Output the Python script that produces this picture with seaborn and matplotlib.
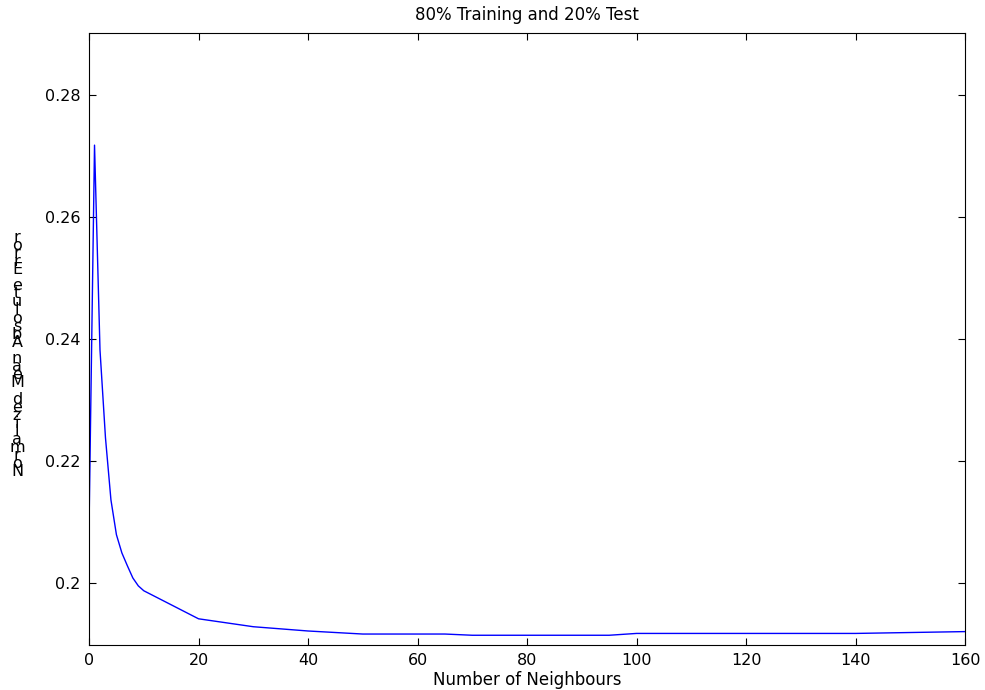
import pandas as pd
import matplotlib.pyplot as plt
import seaborn as sns

# =======================
# 1. DADOS
# =======================
neighbours = [0, 1, 2, 3, 4, 5, 6, 7, 8, 9, 10, 20, 30, 40, 50, 65, 70, 95, 100, 140, 160]
nmae = [0.2092, 0.2718, 0.2382, 0.2238, 0.2136, 0.2079, 0.2049, 0.2028, 0.2008, 0.1995,
        0.1987, 0.1941, 0.1928, 0.1921, 0.1916, 0.1916, 0.1914, 0.1914, 0.1917, 0.1917, 0.1920]
x_ticks = [0, 20, 40, 60, 80, 100, 120, 140, 160]
y_ticks = [0.2, 0.22, 0.24, 0.26, 0.28]
y_tick_labels = ['0.2', '0.22', '0.24', '0.26', '0.28']
ylabel_text = 'Normalized Mean Absolute Error'

df = pd.DataFrame({'k': neighbours, 'erro': nmae})

# =======================
# 2. ESTILO
# =======================
sns.set_style('white')
plt.rcParams['font.family'] = ['DejaVu Sans']
plt.rcParams['font.size'] = 11.5
plt.rcParams['text.color'] = 'black'
plt.rcParams['axes.labelcolor'] = 'black'

fig = plt.figure(figsize=(9.85, 6.9), dpi=100)
ax = fig.add_axes([0.0904, 0.0652, 0.8893, 0.887])

# =======================
# 3. PLOTAGEM
# =======================
sns.lineplot(data=df, x='k', y='erro', color='#0000ff', linewidth=1, ax=ax)

ax.set_xlim(0, 160)
ax.set_ylim(0.1898, 0.2902)
ax.set_xticks(x_ticks)
ax.set_yticks(y_ticks)
ax.set_yticklabels(y_tick_labels)
ax.tick_params(direction='in', length=5, width=0.8, colors='black', labelsize=11.5,
               top=True, right=True, left=True, bottom=True, pad=6)
for s in ax.spines.values():
    s.set_color('black')
    s.set_linewidth(0.8)

ax.set_title('80% Training and 20% Test', fontsize=12, pad=9, color='black')
ax.set_xlabel('Number of Neighbours', fontsize=12, labelpad=2, color='black')
ax.set_ylabel('')

# rótulo do eixo y com as letras empilhadas (como no original)
h = 690
for i, ch in enumerate(ylabel_text):
    if ch == ' ':
        continue
    y_px = 472 - i * 8.1
    fig.text(17 / 985, 1 - y_px / h, ch, fontsize=11.5, ha='center', va='center',
             color='black')

plt.savefig('out.png', dpi=100)
